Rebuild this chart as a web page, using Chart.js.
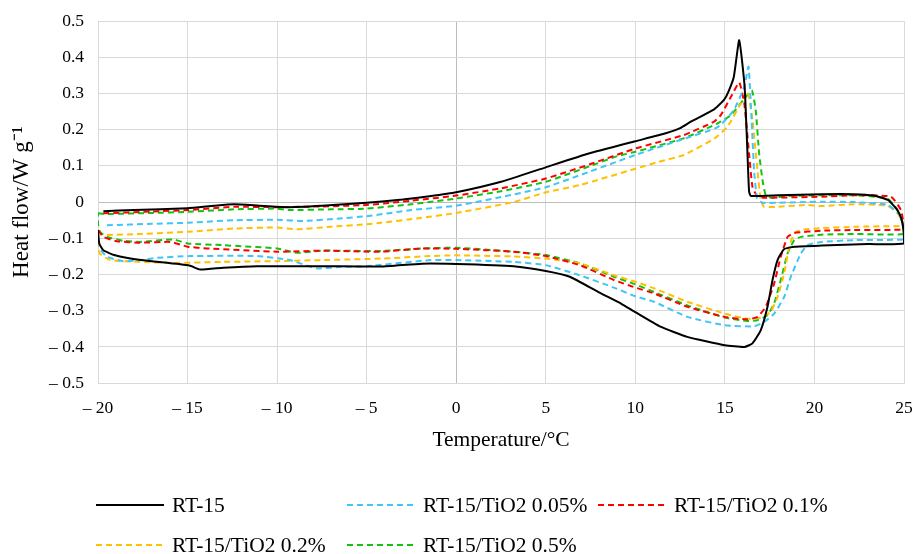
<!DOCTYPE html>
<html>
<head>
<meta charset="utf-8">
<script src="https://cdn.jsdelivr.net/npm/chart.js@4.4.0/dist/chart.umd.min.js"></script>
<style>
  html, body { margin: 0; padding: 0; background: #fff; }
</style>
</head>
<body>
<canvas id="dsc" width="913" height="554"></canvas>
<script>
// series names (legend order)
const seriesNames = ["RT-15", "RT-15/TiO2 0.05%", "RT-15/TiO2 0.1%", "RT-15/TiO2 0.2%", "RT-15/TiO2 0.5%"];

// each loop: heating branch left->right, drop at 25 °C, cooling branch right->left
const rt15X = [-19.7, -18, -15, -13.5, -12.4, -11, -9.5, -7.5, -5, -3, -1.5, 0, 2.5, 5, 7.4, 10, 11.7, 12.5, 13.1, 14.4, 14.95, 15.2, 15.5, 15.8, 16.1, 16.26, 16.35, 16.45, 18, 20.4, 22.2, 23.3, 24.1, 24.6, 24.85, 24.98, 25,
  23, 20.4, 18.9, 18.3, 17.94, 17.66, 17.38, 17, 16.54, 16.08, 15, 12.9, 11.4, 10, 9.2, 8, 6.34, 5, 3.2, 0, -1.9, -4.2, -7.4, -11.1, -13, -14.3, -14.9, -17.6, -19.1, -19.7, -19.93, -20];
const rt15Y = [-0.025, -0.022, -0.017, -0.01, -0.006, -0.01, -0.014, -0.01, -0.002, 0.007, 0.016, 0.027, 0.056, 0.096, 0.134, 0.168, 0.19, 0.204, 0.222, 0.256, 0.282, 0.305, 0.346, 0.447, 0.32, 0.135, 0.03, 0.017, 0.019, 0.022, 0.022, 0.018, 0.006, -0.02, -0.045, -0.08, -0.114,
  -0.116, -0.12, -0.123, -0.13, -0.16, -0.215, -0.289, -0.354, -0.39, -0.4, -0.395, -0.372, -0.344, -0.304, -0.28, -0.25, -0.206, -0.19, -0.177, -0.171, -0.17, -0.178, -0.177, -0.177, -0.181, -0.186, -0.175, -0.16, -0.146, -0.133, -0.114, -0.077];

const ti005X = [-19.5, -17, -15, -12.4, -10, -8.5, -6.5, -5, -2.5, 0, 2.5, 5, 7.5, 10, 12.6, 14.6, 15.5, 16.08, 16.32, 16.49, 16.63, 16.8, 17.1, 20.4, 22.2, 24.1, 24.83, 25,
  25, 22.2, 20.4, 19.6, 19.24, 18.68, 18.31, 17.75, 17.19, 16.63, 15, 12.9, 11.04, 10, 8.8, 6.9, 5, 3.2, 0, -1.45, -5, -6.5, -7.8, -9.3, -11.1, -14.9, -16.7, -17.6, -18.6, -19.5, -20];
const ti005Y = [-0.064, -0.06, -0.057, -0.05, -0.049, -0.052, -0.045, -0.039, -0.022, -0.01, 0.014, 0.041, 0.085, 0.13, 0.173, 0.207, 0.254, 0.318, 0.374, 0.227, 0.088, 0.01, -0.002, 0.001, 0, -0.008, -0.04, -0.091,
  -0.103, -0.105, -0.11, -0.119, -0.142, -0.206, -0.262, -0.308, -0.331, -0.343, -0.34, -0.317, -0.275, -0.26, -0.236, -0.202, -0.174, -0.165, -0.16, -0.16, -0.177, -0.179, -0.183, -0.16, -0.149, -0.149, -0.154, -0.16, -0.163, -0.151, -0.123];

const ti01X = [-19.7, -17, -15, -12.4, -10, -7.5, -5, -2.5, 0, 2.5, 5, 7.5, 10, 12.7, 14.4, 14.77, 15.33, 15.8, 16.08, 16.35, 16.54, 16.82, 17.3, 20.4, 22.2, 24.27, 24.83, 25,
  25, 22.2, 20.4, 18.87, 18.5, 18.12, 17.75, 17.28, 16.82, 16.26, 15, 12.9, 11.04, 10, 8.8, 6.9, 5, 3.2, 0, -1.9, -4.2, -7.4, -10, -13.9, -15, -15.97, -17.65, -18.96, -19.7, -20];
const ti01Y = [-0.031, -0.026, -0.022, -0.013, -0.014, -0.012, -0.008, 0.004, 0.018, 0.038, 0.065, 0.105, 0.148, 0.185, 0.222, 0.24, 0.29, 0.33, 0.273, 0.134, 0.042, 0.015, 0.012, 0.015, 0.019, 0.015, -0.022, -0.068,
  -0.076, -0.077, -0.079, -0.085, -0.096, -0.151, -0.225, -0.289, -0.317, -0.324, -0.317, -0.289, -0.252, -0.236, -0.215, -0.174, -0.149, -0.137, -0.129, -0.128, -0.137, -0.134, -0.137, -0.128, -0.123, -0.11, -0.112, -0.108, -0.096, -0.077];

const ti02X = [-19.5, -17.65, -15, -12.4, -10, -8.9, -7, -5, -4.2, -2, 0, 3.2, 5, 6.9, 10, 11.3, 12.7, 14.4, 15.14, 15.9, 16.26, 16.54, 16.82, 17, 17.19, 17.9, 19.6, 20.4, 22.2, 24.08, 24.64, 25,
  24.9, 22.2, 20.4, 19.24, 18.87, 18.59, 18.31, 17.94, 17.56, 17, 16.26, 15, 12.9, 11.04, 10, 8.8, 6.9, 5, 3.2, 0, -1.45, -4.2, -7.4, -10, -13, -15.8, -17.65, -19.33, -19.9, -20];
const ti02Y = [-0.091, -0.088, -0.082, -0.073, -0.07, -0.075, -0.068, -0.061, -0.057, -0.044, -0.03, 0, 0.027, 0.047, 0.092, 0.111, 0.13, 0.175, 0.208, 0.273, 0.305, 0.227, 0.088, 0.006, -0.013, -0.013, -0.008, -0.011, -0.006, -0.01, -0.031, -0.064,
  -0.066, -0.068, -0.072, -0.077, -0.087, -0.123, -0.197, -0.262, -0.303, -0.319, -0.322, -0.308, -0.275, -0.238, -0.22, -0.202, -0.169, -0.156, -0.15, -0.147, -0.149, -0.156, -0.16, -0.163, -0.165, -0.168, -0.165, -0.16, -0.142, -0.11];

const ti05X = [-20, -19.5, -17, -15, -12.4, -10, -9.4, -7, -5, -2.5, 0, 2.5, 5, 7.5, 9, 10, 12.7, 14.58, 15.33, 16.08, 16.5, 16.72, 16.91, 17.1, 17.28, 17.56, 18.5, 22.2, 24.08, 24.64, 24.92, 25,
  22.2, 20.4, 19.24, 18.87, 18.5, 18.12, 17.75, 17.38, 16.82, 16.26, 15, 12.9, 11.04, 10, 8.8, 6.9, 5, 3.2, 0, -1.9, -4.2, -7.4, -8.9, -10, -13, -15, -15.8, -17.65, -18.58, -19.5, -19.89, -20, -20];
const ti05Y = [-0.031, -0.033, -0.03, -0.027, -0.02, -0.018, -0.022, -0.02, -0.018, -0.006, 0.01, 0.03, 0.056, 0.1, 0.127, 0.139, 0.176, 0.217, 0.24, 0.285, 0.309, 0.254, 0.135, 0.061, 0.019, 0.012, 0.017, 0.019, 0.01, -0.022, -0.059, -0.088,
  -0.088, -0.09, -0.096, -0.105, -0.142, -0.215, -0.28, -0.312, -0.326, -0.328, -0.319, -0.285, -0.248, -0.227, -0.206, -0.169, -0.146, -0.137, -0.126, -0.128, -0.135, -0.134, -0.14, -0.128, -0.119, -0.114, -0.103, -0.11, -0.107, -0.096, -0.082, -0.06, -0.031];

const xTicks = { min: -20, max: 25, step: 5 };
const yTicks = { min: -0.5, max: 0.5, step: 0.1 };

const toPoints = (xs, ys) => xs.map((x, i) => ({ x: x, y: ys[i] }));
const fmt = (v, d) => {
  v = Number(v.toFixed(d));
  if (v === 0) return "0";
  return v < 0 ? "\u2013 " + Math.abs(v).toFixed(d) : v.toFixed(d);
};

const styles = [
  { color: "#000000", dash: [] },
  { color: "#3fc6f4", dash: [6, 4] },
  { color: "#ff0000", dash: [6, 4] },
  { color: "#ffc000", dash: [6, 4] },
  { color: "#12c312", dash: [6, 4] }
];
const loops = [[rt15X, rt15Y], [ti005X, ti005Y], [ti01X, ti01Y], [ti02X, ti02Y], [ti05X, ti05Y]];

const serif = '"Liberation Serif", "Times New Roman", serif';
Chart.defaults.font.family = serif;
Chart.defaults.font.size = 17.5;
Chart.defaults.color = "#000";

/* legend in a fixed grid of three columns under the chart */
const gridLegend = {
  id: "gridLegend",
  afterDraw(chart) {
    const ctx = chart.ctx;
    ctx.save();
    ctx.font = "21.5px " + serif;
    ctx.textBaseline = "middle";
    ctx.fillStyle = "#000";
    chart.data.datasets.forEach((ds, i) => {
      const x = 96 + (i % 3) * 251;
      const y = 505 + Math.floor(i / 3) * 40;
      ctx.strokeStyle = ds.borderColor;
      ctx.lineWidth = ds.borderWidth;
      ctx.setLineDash(ds.borderDash);
      ctx.beginPath();
      ctx.moveTo(x, y);
      ctx.lineTo(x + 68, y);
      ctx.stroke();
      ctx.setLineDash([]);
      ctx.fillText(ds.label, x + 76, y + 1);
    });
    ctx.restore();
  }
};

const gridColor = c => (c.tick && Math.abs(c.tick.value) < 1e-9) ? "#bcbcbc" : "#d9d9d9";

new Chart(document.getElementById("dsc"), {
  type: "scatter",
  data: {
    datasets: seriesNames.map((name, i) => ({
      label: name,
      data: toPoints(loops[i][0], loops[i][1]),
      showLine: true,
      borderColor: styles[i].color,
      borderWidth: 2,
      borderDash: styles[i].dash,
      pointRadius: 0,
      tension: 0.15,
      fill: false
    }))
  },
  options: {
    responsive: false,
    animation: false,
    layout: { padding: { top: 21, right: 9, bottom: 97, left: 0 } },
    plugins: { legend: { display: false }, tooltip: { enabled: false } },
    scales: {
      x: {
        type: "linear",
        min: xTicks.min,
        max: xTicks.max,
        ticks: { stepSize: xTicks.step, padding: 15, callback: v => fmt(v, 0) },
        grid: { color: gridColor, drawTicks: false },
        border: { color: "#d9d9d9" },
        title: { display: true, text: "Temperature/\u00B0C", font: { size: 21.5 }, padding: { top: -7, bottom: 4 } },
        afterFit: s => { s.paddingLeft = 0; s.paddingRight = 0; }
      },
      y: {
        type: "linear",
        min: yTicks.min,
        max: yTicks.max,
        ticks: { stepSize: yTicks.step, padding: 14, callback: v => fmt(v, 1) },
        grid: { color: gridColor, drawTicks: false },
        border: { color: "#d9d9d9" },
        title: { display: true, text: "Heat flow/W g\u207B\u00B9", font: { size: 23 }, padding: { top: 8, bottom: 0 } },
        afterFit: s => { s.width = 98; s.paddingTop = 0; s.paddingBottom = 0; }
      }
    }
  },
  plugins: [gridLegend]
});
</script>
</body>
</html>
